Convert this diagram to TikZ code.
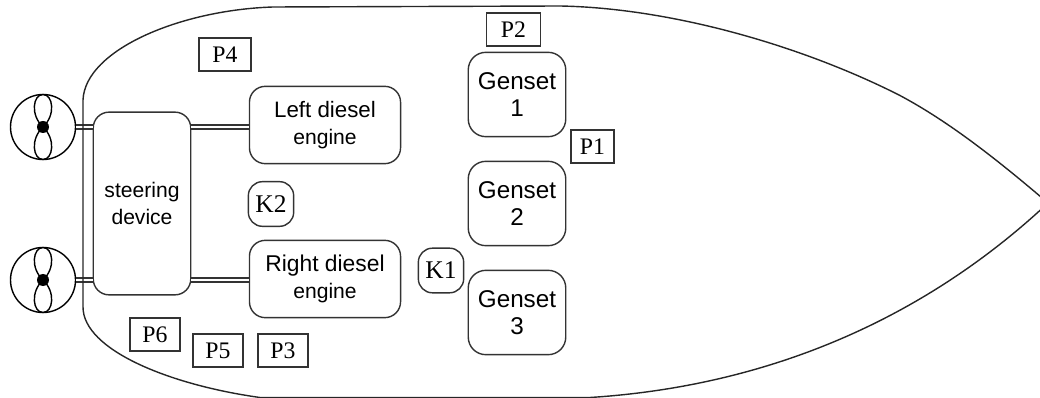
\documentclass[tikz,border=0pt]{standalone}
\usepackage{fontspec}
\setmainfont{Liberation Serif}
\setsansfont{Liberation Sans}
\tikzset{
  unit/.style={draw=black!80,thick,rounded corners=9pt,align=center,font=\sffamily\fontsize{12}{15.5}\selectfont,inner sep=0pt},
  genset/.style={unit,rounded corners=10pt,minimum width=55.5pt,minimum height=48pt,font=\sffamily\fontsize{13.8}{15.5}\selectfont},
  engine/.style={unit,minimum width=86pt,minimum height=44pt},
  clutch/.style={draw=black!80,thick,rounded corners=8pt,minimum width=25.8pt,minimum height=25.4pt,inner sep=0pt,font=\fontsize{14.5}{16}\selectfont},
  sensor/.style={draw=black!80,thick,minimum width=28.4pt,minimum height=18.7pt,inner sep=0pt,font=\fontsize{13.5}{16}\selectfont},
  prop/.style={draw=black,thick,circle,minimum size=37pt,inner sep=0pt},
  shaft/.style={draw=black!80,thick,double,double distance=1.6pt}
}
\begin{document}
\begin{tikzpicture}[x=0.02cm,y=-0.02cm]
  \useasboundingbox (0,0) rectangle (1040,398);
  % units
  \node [unit,minimum width=55.5pt,minimum height=104pt] (steer) at (142,203.5) {steering\\device};
  \node [engine] (leftEng) at (325,125) {\fontsize{12.7}{15.5}\selectfont Left diesel\\engine};
  \node [engine] (rightEng) at (325,279) {\fontsize{13}{15.5}\selectfont Right diesel\\engine};
  \node [genset] (gen1) at (517,94.5) {Genset\\1};
  \node [genset] (gen2) at (517,203.5) {Genset\\2};
  \node [genset] (gen3) at (517,312.5) {Genset\\3};
  \node [clutch] (k2) at (271,204) {K2};
  \node [clutch] (k1) at (441,270.5) {K1};
  \node [sensor,minimum width=24.4pt] (p1) at (592.5,146.5) {P1};
  \node [sensor,minimum width=31pt] (p2) at (513.5,29.5) {P2};
  \node [sensor] (p3) at (283,350.5) {P3};
  \node [sensor,minimum width=29.5pt] (p4) at (225,54.5) {P4};
  \node [sensor] (p5) at (218,350.5) {P5};
  \node [sensor] (p6) at (155,334.5) {P6};
  % propellers
  \foreach \name/\ypos in {propTop/127,propBot/280} {
    \node [prop] (\name) at (43,\ypos) {};
    \draw [thick] (43,\ypos) .. controls (30,\ypos-12) and (33,\ypos-32.5) .. (43,\ypos-32.5)
      .. controls (53,\ypos-32.5) and (56,\ypos-12) .. (43,\ypos)
      .. controls (30,\ypos+12) and (33,\ypos+32.5) .. (43,\ypos+32.5)
      .. controls (53,\ypos+32.5) and (56,\ypos+12) .. (43,\ypos);
    \fill (43,\ypos) circle (6);
  }
  % shafts
  \draw [shaft] (propTop) -- (propTop -| steer.west);
  \draw [shaft] (propBot) -- (propBot -| steer.west);
  \draw [shaft] (steer.east |- propTop) -- (leftEng.west |- propTop);
  \draw [shaft] (steer.east |- propBot) -- (rightEng.west |- propBot);
  % hull
  \draw [thick,black!85] (83,307) -- (83,100)
    .. controls (85,50) and (180,10) .. (273,7)
    -- (560,6)
    .. controls (670,8) and (800,45) .. (899,95)
    .. controls (950,122) and (1000,162) .. (1048,203)
    .. controls (925,318) and (770,386) .. (590,397.5)
    -- (260,397.5)
    .. controls (170,385) and (83,350) .. (83,307);
\end{tikzpicture}
\end{document}
